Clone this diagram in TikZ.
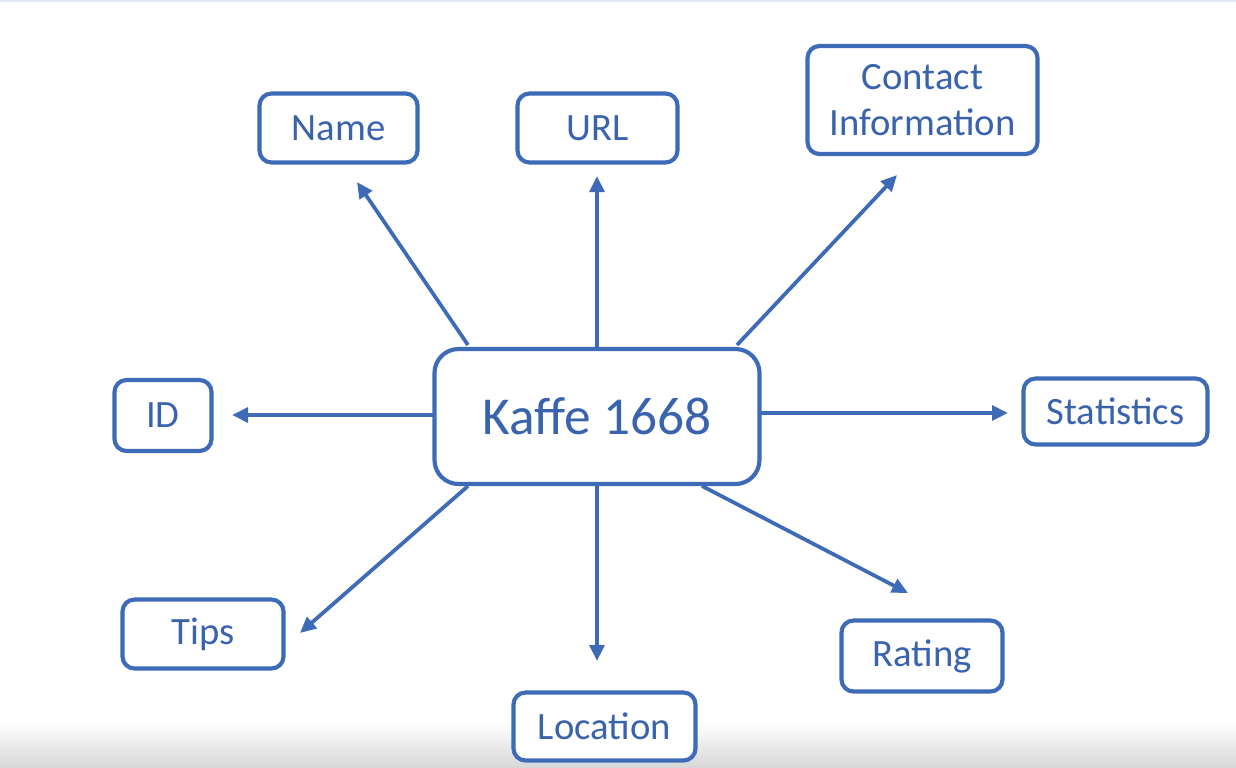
\documentclass[tikz,border=0pt]{standalone}
\usepackage{fontspec}
\setmainfont{Carlito}
\usetikzlibrary{arrows.meta}
\definecolor{kblue}{HTML}{3E6BB8}
\definecolor{ktext}{HTML}{3A63AE}
\begin{document}
\begin{tikzpicture}[x=0.75pt,y=-0.75pt,
  box/.style={draw=kblue, line width=3.1pt, rounded corners=9pt, text=ktext,
    font=\fontsize{29}{35}\selectfont, inner sep=0pt, align=center, fill=white},
  bigbox/.style={box, rounded corners=18pt, font=\fontsize{40}{46}\selectfont},
  arr/.style={draw=kblue, line width=2.8pt, -{Triangle[length=12pt,width=11pt]}}]
\useasboundingbox (0,0) rectangle (1236,768);
\fill[white] (0,0) rectangle (1236,768);
\shade[top color=white, bottom color=black!16] (0,722) rectangle (1236,768);
\fill[kblue!15] (0,0) rectangle (1236,2);
% nodes
\node[box, minimum width={158*0.75pt}, minimum height={69*0.75pt}] (name) at (338.5,128) {Name};
\node[box, minimum width={160*0.75pt}, minimum height={69*0.75pt}] (url) at (597.5,128) {URL};
\node[box, minimum width={230*0.75pt}, minimum height={108*0.75pt}] (contact) at (922.5,100) {Contact\\Information};
\node[box, minimum width={97*0.75pt}, minimum height={71*0.75pt}] (id) at (163,415.5) {ID};
\node[bigbox, minimum width={325*0.75pt}, minimum height={135*0.75pt}] (kaffe) at (597,416.5) {Kaffe 1668};
\node[box, minimum width={184*0.75pt}, minimum height={66*0.75pt}] (stats) at (1115.5,411.5) {Statistics};
\node[box, minimum width={161*0.75pt}, minimum height={69*0.75pt}] (tips) at (203,634) {Tips};
\node[box, minimum width={182*0.75pt}, minimum height={68*0.75pt}] (location) at (604.5,726.5) {Location};
\node[box, minimum width={161*0.75pt}, minimum height={71*0.75pt}] (rating) at (922,656) {Rating};
% connector ends
\coordinate (sName) at (468,345);  \coordinate (tName) at (357,182);
\coordinate (sUrl) at (597,347);   \coordinate (tUrl) at (597,176);
\coordinate (sCon) at (737,345);   \coordinate (tCon) at (897,175);
\coordinate (sId) at (433,415);    \coordinate (tId) at (232,415);
\coordinate (sSta) at (761,413);   \coordinate (tSta) at (1008,413);
\coordinate (sTip) at (468,486);   \coordinate (tTip) at (300,633);
\coordinate (sLoc) at (597,486);   \coordinate (tLoc) at (597,661);
\coordinate (sRat) at (702,486);   \coordinate (tRat) at (908,593);
\draw[arr] (sName) -- (tName);
\draw[arr] (sUrl) -- (tUrl);
\draw[arr] (sCon) -- (tCon);
\draw[arr] (sId) -- (tId);
\draw[arr] (sSta) -- (tSta);
\draw[arr] (sTip) -- (tTip);
\draw[arr] (sLoc) -- (tLoc);
\draw[arr] (sRat) -- (tRat);
\end{tikzpicture}
\end{document}
